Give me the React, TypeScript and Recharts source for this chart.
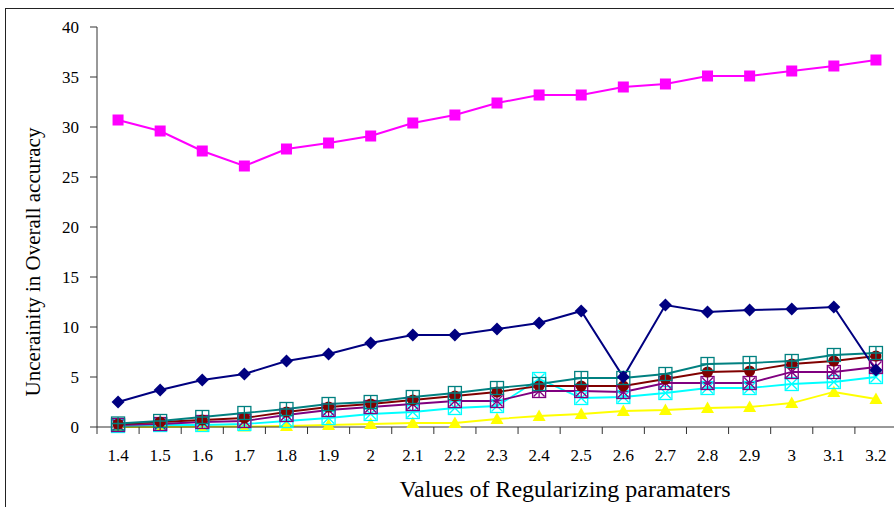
import React from "react";
import { LineChart, Line, XAxis, YAxis } from "recharts";

const CATEGORIES = ["1.4", "1.5", "1.6", "1.7", "1.8", "1.9", "2", "2.1", "2.2", "2.3", "2.4", "2.5", "2.6", "2.7", "2.8", "2.9", "3", "3.1", "3.2"];

const MAGENTA = [30.7, 29.6, 27.6, 26.1, 27.8, 28.4, 29.1, 30.4, 31.2, 32.4, 33.2, 33.2, 34.0, 34.3, 35.1, 35.1, 35.6, 36.1, 36.7];
const NAVY = [2.5, 3.7, 4.7, 5.3, 6.6, 7.3, 8.4, 9.2, 9.2, 9.8, 10.4, 11.6, 5.0, 12.2, 11.5, 11.7, 11.8, 12.0, 5.7];
const TEAL = [0.35, 0.6, 1.0, 1.4, 1.8, 2.3, 2.5, 3.0, 3.4, 3.9, 4.3, 4.9, 4.9, 5.3, 6.3, 6.4, 6.6, 7.2, 7.4];
const DARKRED = [0.3, 0.5, 0.7, 0.9, 1.5, 2.0, 2.3, 2.7, 3.1, 3.5, 4.1, 4.1, 4.1, 4.8, 5.5, 5.6, 6.3, 6.6, 7.1];
const PURPLE = [0.2, 0.3, 0.5, 0.6, 1.2, 1.7, 2.0, 2.3, 2.6, 2.6, 3.6, 3.6, 3.5, 4.4, 4.4, 4.4, 5.5, 5.5, 6.0];
const CYAN = [0.1, 0.2, 0.2, 0.3, 0.6, 0.9, 1.3, 1.5, 1.9, 2.1, 4.8, 2.9, 3.0, 3.4, 3.9, 3.9, 4.3, 4.5, 5.0];
const YELLOW = [0.0, 0.0, 0.05, 0.05, 0.1, 0.2, 0.3, 0.4, 0.4, 0.8, 1.1, 1.3, 1.6, 1.7, 1.9, 2.0, 2.4, 3.5, 2.8];

const Y_TICKS = [0, 5, 10, 15, 20, 25, 30, 35, 40];

const FONT = "'Liberation Serif', 'Times New Roman', serif";

const data = CATEGORIES.map((c, i) => ({
  i,
  label: c,
  magenta: MAGENTA[i],
  navy: NAVY[i],
  teal: TEAL[i],
  darkred: DARKRED[i],
  purple: PURPLE[i],
  cyan: CYAN[i],
  yellow: YELLOW[i],
}));

// tick values: half steps are the boundary tick marks, whole steps carry the labels
const X_TICKS: number[] = [];
for (let k = -1; k < CATEGORIES.length * 2; k++) X_TICKS.push(k / 2);

function XTick(props: any) {
  const { x, y, payload } = props;
  const v = payload.value;
  if (Number.isInteger(v)) {
    return (
      <text x={x} y={y + 34} textAnchor="middle" fontFamily={FONT} fontSize={17} fill="#000">
        {CATEGORIES[v]}
      </text>
    );
  }
  return <line x1={x} x2={x} y1={y} y2={y + 7} stroke="#333" strokeWidth={1} />;
}

type Kind = "square" | "diamond" | "triangle" | "xbox" | "starbox" | "plusbox" | "circle";

function marker(kind: Kind, color: string) {
  return (p: any) => {
    const { cx, cy, index } = p;
    if (cx == null || cy == null) return <g key={index} />;
    const s = 6.5;
    switch (kind) {
      case "square":
        return <rect key={index} x={cx - 5.5} y={cy - 5.5} width={11} height={11} fill={color} />;
      case "diamond":
        return <path key={index} d={`M${cx},${cy - 6.5}L${cx + 6.5},${cy}L${cx},${cy + 6.5}L${cx - 6.5},${cy}Z`} fill={color} />;
      case "triangle":
        return <path key={index} d={`M${cx},${cy - 6.5}L${cx + 6.5},${cy + 5}L${cx - 6.5},${cy + 5}Z`} fill={color} />;
      case "circle":
        return <circle key={index} cx={cx} cy={cy} r={5.5} fill={color} />;
      case "xbox":
        return (
          <g key={index} stroke={color} strokeWidth={1.3} fill="none">
            <rect x={cx - s} y={cy - s} width={s * 2} height={s * 2} />
            <path d={`M${cx - s + 1},${cy - s + 1}L${cx + s - 1},${cy + s - 1}M${cx + s - 1},${cy - s + 1}L${cx - s + 1},${cy + s - 1}`} />
          </g>
        );
      case "starbox":
        return (
          <g key={index} stroke={color} strokeWidth={1.3} fill="none">
            <rect x={cx - s} y={cy - s} width={s * 2} height={s * 2} />
            <path d={`M${cx - s + 1},${cy - s + 1}L${cx + s - 1},${cy + s - 1}M${cx + s - 1},${cy - s + 1}L${cx - s + 1},${cy + s - 1}M${cx},${cy - s}L${cx},${cy + s}`} />
          </g>
        );
      case "plusbox":
      default:
        return (
          <g key={index} stroke={color} strokeWidth={1.3} fill="none">
            <rect x={cx - s} y={cy - s} width={s * 2} height={s * 2} />
            <path d={`M${cx - s},${cy}L${cx + s},${cy}M${cx},${cy - s}L${cx},${cy + s}`} />
          </g>
        );
    }
  };
}

const SERIES: { key: string; color: string; kind: Kind }[] = [
  { key: "magenta", color: "#FF00FF", kind: "square" },
  { key: "yellow", color: "#FFFF00", kind: "triangle" },
  { key: "cyan", color: "#00FFFF", kind: "xbox" },
  { key: "purple", color: "#800080", kind: "starbox" },
  { key: "darkred", color: "#800000", kind: "circle" },
  { key: "teal", color: "#008080", kind: "plusbox" },
  { key: "navy", color: "#000080", kind: "diamond" },
];

export default function App() {
  return (
    <div style={{ position: "absolute", left: 0, top: 0, width: 894, height: 507, overflow: "hidden", background: "#fff" }}>
      {/* frame, only top and left edges show */}
      <div style={{ position: "absolute", left: 5, top: 8, width: 1000, height: 600, borderTop: "1.5px solid #222", borderLeft: "1.5px solid #222" }} />
      <div style={{ position: "absolute", left: 0, top: 0 }}>
        <LineChart width={920} height={507} data={data} margin={{ top: 27, right: 23, left: 0, bottom: 0 }}>
          <XAxis
            dataKey="i"
            type="number"
            domain={[-0.5, CATEGORIES.length - 0.5]}
            ticks={X_TICKS}
            interval={0}
            tick={<XTick />}
            tickLine={false}
            tickSize={0}
            tickMargin={0}
            height={80}
            axisLine={{ stroke: "#333", strokeWidth: 1 }}
          />
          <YAxis
            type="number"
            domain={[0, 40]}
            ticks={Y_TICKS}
            width={97}
            tickSize={7}
            tickMargin={11}
            tick={{ fontFamily: FONT, fontSize: 17, fill: "#000" }}
            tickLine={{ stroke: "#333" }}
            axisLine={{ stroke: "#333", strokeWidth: 1 }}
          />
          {SERIES.map((s) => (
            <Line
              key={s.key}
              dataKey={s.key}
              stroke={s.color}
              strokeWidth={s.key === "magenta" || s.key === "navy" ? 2 : 1.8}
              dot={marker(s.kind, s.color)}
              activeDot={false}
              isAnimationActive={false}
              type="linear"
            />
          ))}
        </LineChart>
      </div>
      <div
        style={{
          position: "absolute",
          left: 33,
          top: 262,
          transform: "translate(-50%, -50%) rotate(-90deg)",
          whiteSpace: "nowrap",
          fontFamily: FONT,
          fontSize: 21,
          color: "#000",
        }}
      >
        Uncerainity in Overall accuracy
      </div>
      <div
        style={{
          position: "absolute",
          left: 565,
          top: 489,
          transform: "translate(-50%, -50%)",
          whiteSpace: "nowrap",
          fontFamily: FONT,
          fontSize: 24,
          color: "#000",
        }}
      >
        Values of Regularizing paramaters
      </div>
    </div>
  );
}
